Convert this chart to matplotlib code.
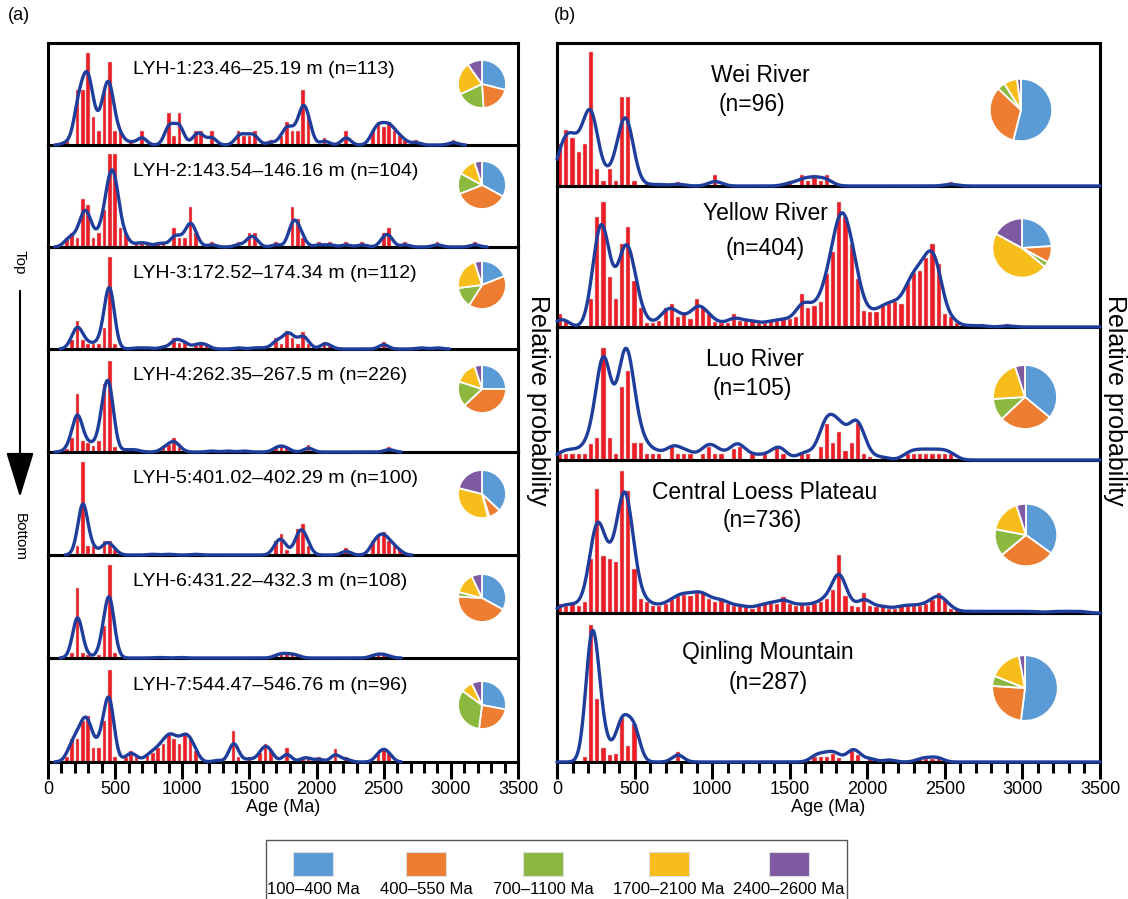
import numpy as np
import matplotlib
matplotlib.use('Agg')
import matplotlib.pyplot as plt
from matplotlib.patches import Rectangle, FancyArrowPatch

plt.rcParams['font.family'] = ['Liberation Sans', 'DejaVu Sans']

W, H = 1128, 899

# histogram heights in 40-Ma bins, starting at 0 Ma
bin_w = 40
lyh1 = [0, 0, 0, .5, 0, 6, 6, 10, 3, 1.5, 6, 9, 1.5, 1.5, 0, .5, 0, 1.5, 0, 0,
        0, 0, 3.5, 1, 3.5, 0, 0, 1.5, 1.5, 0, 1.5, 0, 0, 0, 0, 1.5, 1, 1, 1.5, 0,
        0, .5, 0, 1, 2.5, 1.5, 1.5, 6, 3, 0, 0, .8, 0, 0, 0, 1.5, 0, 0, 0, 0,
        1.5, 2.5, 2, 2.5, 1.5, 1, .5, 0, .5, 0, 0, 0, 0, 0, 0, .5]
lyh2 = [0, 0, 0, 1, 1.5, 1, 5.2, 4.5, 1, 1.5, 4, 10, 10, 2, 1.5, 0, .5, .5, .5, 0,
        .5, .5, 0, 2, 1, 1, 4.3, 1.5, 0, 0, .5, 0, 0, 0, 0, .5, 0, 1.5, 1.5, 0,
        0, 0, .5, 0, 0, 4.3, 3, 1, 0, 0, .5, 0, .5, 0, 0, .5, 0, 0, .5, 0,
        0, 0, 1.5, 2, 0, 0, .5, 0, 0, 0, 0, 0, .5, 0, 0, 0, 0, 0, 0, .5]
lyh3 = [0, 0, 0, 0, 1, 3, 1, .5, .5, .5, 2.3, 10, .5, 0, 0, 0, .2, 0, .2, 0,
        0, .3, 0, 1.2, .7, .8, 0, .5, .5, .5, 0, 0, 0, 0, 0, .2, 0, 0, .2, 0,
        .2, 0, 1.2, .5, 2, 1.2, .5, 1.8, .5, 0, 0, .8, .3, 0, 0, 0, 0, 0, 0, 0,
        0, 0, .8, 0, 0, 0, 0, 0, 0, .2, 0, 0, .2]
lyh4 = [0, 0, 0, .3, 1.5, 6.4, 1.2, 1, .7, 1.2, 7.5, 10, .5, 0, .3, .2, .3, 0, 0, 0,
        0, .5, .8, 1.5, .5, 0, 0, 0, 0, 0, .2, 0, 0, .2, 0, 0, .2, 0, 0, 0,
        0, 0, .6, .7, .5, 0, 0, 0, .8, 0, 0, 0, 0, 0, 0, 0, 0, 0, 0, 0,
        0, 0, 0, .5]
lyh5 = [0, 0, 0, 0, 0, 1, 10, 1, 1, 0, 1.5, 1.5, .5, 0, 0, 0, 0, 0, 0, .15,
        0, 0, .15, 0, 0, 0, 0, .15, 0, 0, 0, 0, 0, 0, 0, 0, 0, 0, 0, 0,
        0, 0, 1.5, 2.3, .5, 0, 2.8, 3.3, 1, 0, 0, 0, 0, 0, 0, .8, 0, 0, 0, 0,
        1.5, 2, 2.5, 1.5, 1, .5]
lyh6 = [0, 0, 0, 0, .5, 7.5, .5, .3, 0, .3, 3.5, 10, .5, 0, 0, 0, 0, 0, 0, 0,
        .1, 0, 0, 0, .1, 0, 0, 0, 0, 0, 0, 0, 0, 0, 0, 0, 0, 0, 0, 0,
        0, 0, .3, .5, .4, .4, .3, 0, 0, 0, 0, 0, 0, 0, 0, 0, 0, 0, 0, 0,
        .3, .4, .4, .2]
lyh7 = [0, 0, 0, .5, 2.5, 2.5, 4.5, 5, 1.5, 1.5, 4.5, 10, .5, 0, .5, 1.2, .5, 0, .8, 1,
        1.5, 2, 3, 2.5, 2, 3, 2.5, 1.2, 0, 0, 0, .3, 0, 0, 3.4, .5, 0, .5, 0, 1,
        2, 1.2, 0, 0, 1.5, 0, 0, .5, .5, 0, .5, 0, 0, 1.4, 0, .5, 0, 0, 0, 0,
        0, 1, 1.5, 1]

wei = [3.1, 4.2, 3.6, 2.5, 3.1, 10, 1.3, .4, 1.3, .4, 6.6, 6.6, .4, 0, .2, 0, .2, 0, 0, .3,
       0, 0, 0, 0, 0, .8, 0, 0, 0, 0, 0, 0, 0, 0, 0, 0, 0, .4, 0, .8,
       .4, .8, .4, .8, 0, 0, 0, 0, 0, 0, 0, 0, 0, 0, 0, 0, 0, 0, 0, 0,
       0, 0, 0, .3]
yellow = [1, .5, 0, 0, 0, 2.2, 8.8, 10, 4, 2.2, 6.6, 8, 3.7, 1.5, .3, .3, .5, 1.5, 1.8, .8,
          1, .6, 2.2, 1.5, 1, .4, .3, .3, 1, .5, .5, .5, .3, .3, .5, .5, .6, .6, .8, 2.6,
          1.5, 1.7, 2, 4.2, 6, 10, 8.8, 6.6, 3.8, 1.3, 1.2, 1.2, 1.7, 1.8, 2, 1.8, 3.5, 4.3, 4.5, 5.5,
          6.6, 5, 1, .8, .3, 0, .2, 0, .2, 0, 0, 0, .2]
luo = [.5, .5, .5, .5, .5, 1.4, 2, 10, 2, .5, 6.5, 8, 1.5, 1.5, .5, .5, .5, 0, 1.2, .5,
       .5, .5, 0, .5, 1.2, .5, .5, 0, 1, 1.2, 0, .5, 0, .5, 0, 1.2, .5, 0, 0, .5,
       .5, 0, 1.2, 3.2, 1.5, 2.5, .8, 1.5, 3.3, .5, .3, 0, .3, 0, 0, 0, .5, .5, .5, .5,
       .5, .5, .5, .5]
central = [.6, .5, .6, .5, .8, 3.8, 8.7, 4, 3.8, 3.6, 10, 8.6, 3.1, 1, .8, .5, .5, .6, .9, 1.2,
           1.3, 1.2, 1.4, 1.4, 1, .8, 1, .6, .5, .5, .4, .3, .5, .6, .7, .6, 1.1, .6, .5, .6,
           .5, .6, .8, 1, 1.6, 4.1, 1.2, .5, .4, 1.4, .5, .4, .5, .3, .3, .5, .5, .5, .5, .6,
           .9, 1.4, .9, .3, .2, 0, .2, 0, .2, 0, .2, 0, .2, 0, .2, 0, .2, 0, .1, 0,
           .2, 0, .2, 0, .2]
qinling = [0, 0, 0, 0, .4, 10, 4.6, 1, .5, .6, 3.2, 1.2, 2.8, 0, 0, 0, 0, 0, 0, .7,
           0, 0, 0, 0, 0, 0, 0, 0, 0, 0, 0, 0, 0, 0, 0, 0, 0, 0, 0, 0,
           0, .4, .4, .4, .6, .3, 0, .9, .5, 0, .3, 0, 0, .2, 0, 0, 0, 0, .2, .2,
           .2, .3]

labels_a = ['LYH-1:23.46–25.19 m (n=113)', 'LYH-2:143.54–146.16 m (n=104)',
            'LYH-3:172.52–174.34 m (n=112)', 'LYH-4:262.35–267.5 m (n=226)',
            'LYH-5:401.02–402.29 m (n=100)', 'LYH-6:431.22–432.3 m (n=108)',
            'LYH-7:544.47–546.76 m (n=96)']
names_b = ['Wei River', 'Yellow River', 'Luo River', 'Central Loess Plateau', 'Qinling Mountain']
counts_b = ['(n=96)', '(n=404)', '(n=105)', '(n=736)', '(n=287)']

# pie fractions: 100-400, 400-550, 700-1100, 1700-2100, 2400-2600 Ma
pies_a = [[.29, .20, .19, .22, .10], [.33, .36, .14, .12, .05], [.19, .40, .14, .22, .05],
          [.25, .38, .17, .15, .05], [.37, .08, .01, .33, .21], [.33, .43, .03, .14, .07],
          [.28, .24, .33, .08, .07]]
pies_b = [[.54, .33, .04, .07, .02], [.24, .09, .03, .47, .17], [.36, .27, .11, .21, .05],
          [.35, .29, .14, .17, .05], [.52, .24, .05, .16, .03]]

legend_labels = ['100–400 Ma', '400–550 Ma', '700–1100 Ma', '1700–2100 Ma', '2400–2600 Ma']
pie_colors = ['#5B9BD5', '#ED7D31', '#8DB840', '#F7BD1B', '#7E5AA2']

data_a = [lyh1, lyh2, lyh3, lyh4, lyh5, lyh6, lyh7]
data_b = [wei, yellow, luo, central, qinling]

# layout in pixels
edges_a = [43, 145, 247, 349, 452, 555, 658, 762]
edges_b = [43, 186, 327, 460, 613, 762]
xa0, xa1 = 48, 518
xb0, xb1 = 557, 1100
fill_a = [.9, .91, .9, .88, .9, .9, .88]
fill_b = [.94, .89, .84, .93, .92]
peak_a = [.8, .83, .67, .79, .55, .66, .71]
peak_b = [.57, .91, 1.0, .85, .96]
bw_a = [35, 35, 35, 35, 35, 35, 35]
bw_b = [45, 40, 45, 40, 38]
pie_ya = [84, 185, 285, 389, 494, 598, 705]
pie_b_xy = [(1021, 110, 39), (1022, 248, 37), (1025, 397, 40), (1026, 535, 39), (1025, 688, 41)]
title_b_y = [(76, 104), (213, 248), (360, 388), (493, 520), (652, 682)]
title_b_x = [(760, 752), (765, 765), (755, 752), (765, 762), (768, 768)]


def box(x0, y0, x1, y1):
    return [x0 / W, 1 - y1 / H, (x1 - x0) / W, (y1 - y0) / H]


def fx(x):
    return x / W


def fy(y):
    return 1 - y / H


def draw_panel(ax, h, fill, peak, bw, full):
    h = np.array(h, float)
    ages = np.arange(len(h)) * bin_w + bin_w / 2
    ax.bar(ages, h, width=27, color='#EE1C25', edgecolor='#D0C8C8', linewidth=0.35, zorder=2)
    x = np.linspace(0, 3500, 1401)
    k = (h[:, None] * np.exp(-0.5 * ((x[None, :] - ages[:, None]) / bw) ** 2)).sum(0)
    k = k / k.max() * peak * h.max()
    if not full:
        nz = np.nonzero(h)[0]
        m = (x >= ages[nz[0]] - 90) & (x <= ages[nz[-1]] + 90)
        x, k = x[m], k[m]
    ax.plot(x, k, color='#1F3E9C', lw=2.4, zorder=3, clip_on=False, solid_capstyle='round')
    ax.set_xlim(0, 3500)
    ax.set_ylim(0, h.max() / fill)
    ax.set_yticks([])
    ax.set_xticks([])
    for s in ax.spines.values():
        s.set_linewidth(2.2)


def bottom_ticks(ax):
    ax.set_xticks(np.arange(0, 3501, 500))
    ax.set_xticks(np.arange(0, 3501, 100), minor=True)
    ax.tick_params(axis='x', which='major', direction='out', length=12, width=2.2,
                   labelsize=13, pad=2)
    ax.tick_params(axis='x', which='minor', direction='out', length=8, width=2.2)


fig = plt.figure(figsize=(W / 100, H / 100), dpi=100)

# (a) borehole samples
for i, h in enumerate(data_a):
    ax = fig.add_axes(box(xa0, edges_a[i], xa1, edges_a[i + 1]))
    ax.set_zorder(10 - i)
    draw_panel(ax, h, fill_a[i], peak_a[i], bw_a[i], False)
    ax.text(630, 0.74, labels_a[i], transform=ax.get_xaxis_transform(),
            fontsize=14, ha='left', va='center')
    if i == len(data_a) - 1:
        bottom_ticks(ax)
    pax = fig.add_axes(box(482 - 30, pie_ya[i] - 30, 482 + 30, pie_ya[i] + 30))
    pax.set_zorder(30)
    pax.pie(pies_a[i], colors=pie_colors, startangle=90, counterclock=False,
            wedgeprops=dict(edgecolor='white', linewidth=1.3))

# (b) potential source areas
for i, h in enumerate(data_b):
    ax = fig.add_axes(box(xb0, edges_b[i], xb1, edges_b[i + 1]))
    ax.set_zorder(10 - i)
    draw_panel(ax, h, fill_b[i], peak_b[i], bw_b[i], True)
    if i == len(data_b) - 1:
        bottom_ticks(ax)
    fig.text(fx(title_b_x[i][0]), fy(title_b_y[i][0]), names_b[i], fontsize=16.5,
             ha='center', va='center', zorder=50)
    fig.text(fx(title_b_x[i][1]), fy(title_b_y[i][1]), counts_b[i], fontsize=16.5,
             ha='center', va='center', zorder=50)
    cx, cy, r = pie_b_xy[i]
    pax = fig.add_axes(box(cx - r, cy - r, cx + r, cy + r))
    pax.set_zorder(30)
    pax.pie(pies_b[i], colors=pie_colors, startangle=90, counterclock=False,
            wedgeprops=dict(edgecolor='white', linewidth=1.3))

fig.text(fx(19), fy(16), '(a)', fontsize=13, ha='center', va='center')
fig.text(fx(565), fy(16), '(b)', fontsize=13, ha='center', va='center')
fig.text(fx(283), fy(807), 'Age (Ma)', fontsize=13, ha='center', va='center', zorder=50)
fig.text(fx(828), fy(807), 'Age (Ma)', fontsize=13, ha='center', va='center', zorder=50)
fig.text(fx(538), fy(400), 'Relative probability', fontsize=18, rotation=-90,
         ha='center', va='center', zorder=50)
fig.text(fx(1115), fy(400), 'Relative probability', fontsize=18, rotation=-90,
         ha='center', va='center', zorder=50)

# Top -> Bottom arrow
fig.text(fx(20), fy(262), 'Top', fontsize=11, rotation=-90, ha='center', va='center')
fig.text(fx(20), fy(537), 'Bottom', fontsize=11, rotation=-90, ha='center', va='center')
fig.add_artist(FancyArrowPatch((fx(20), fy(288)), (fx(20), fy(500)),
                               transform=fig.transFigure,
                               arrowstyle='-|>,head_length=1.3,head_width=0.4',
                               mutation_scale=22, color='black', lw=1.5))

# legend box
fig.add_artist(Rectangle((fx(266), fy(905)), (847 - 266) / W, (905 - 840) / H,
                         transform=fig.transFigure, fill=False, edgecolor='#555555', lw=1))
leg_x = [313, 426, 543, 669, 789]
for lx, lab, c in zip(leg_x, legend_labels, pie_colors):
    fig.add_artist(Rectangle((fx(lx - 20), fy(876)), 40 / W, 24 / H,
                             transform=fig.transFigure, facecolor=c,
                             edgecolor='#DDDDDD', lw=0.8))
    fig.text(fx(lx), fy(890), lab, fontsize=12, ha='center', va='center')

fig.savefig('out.png', dpi=100)
